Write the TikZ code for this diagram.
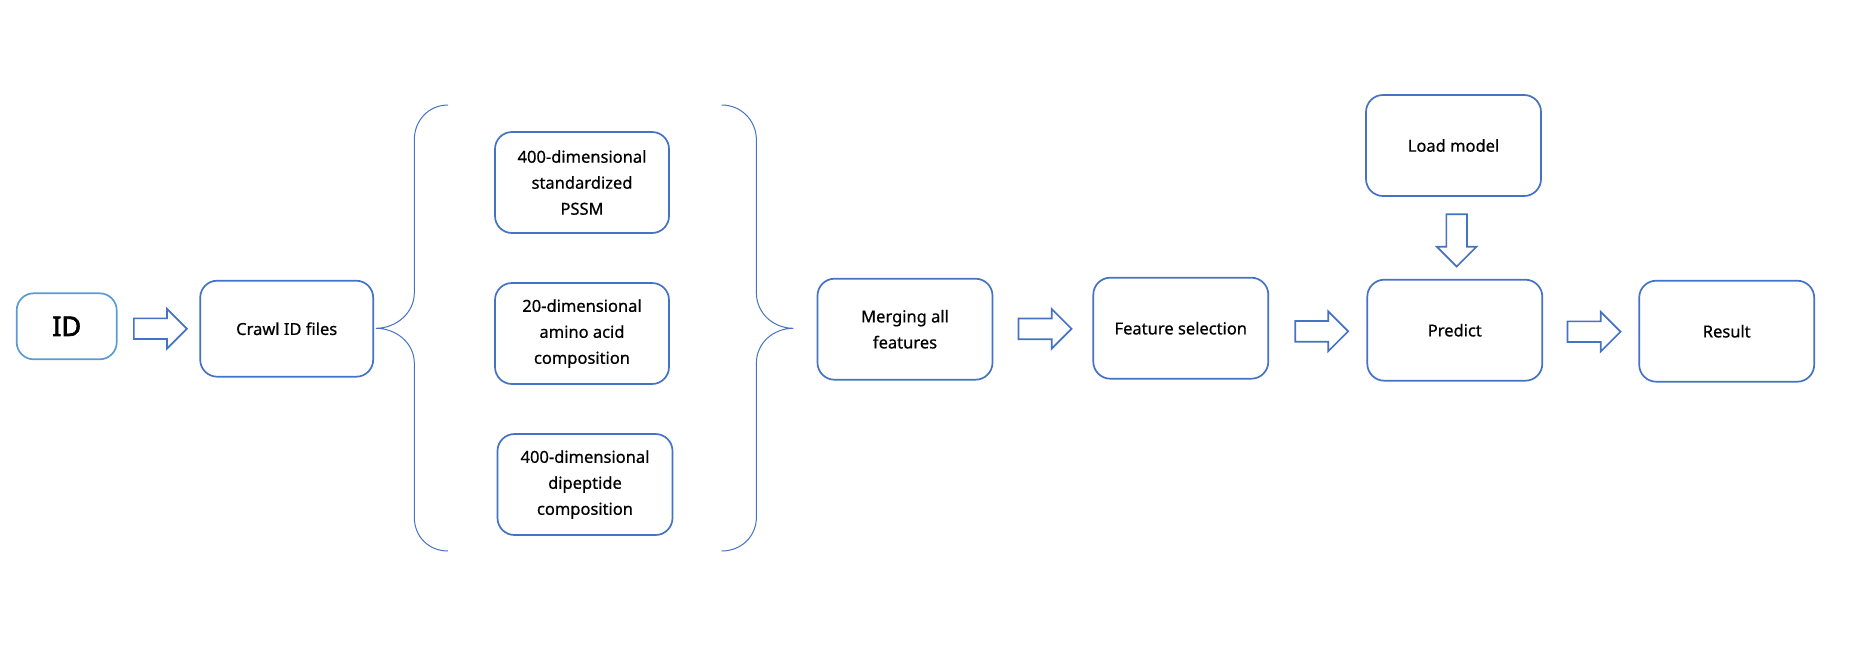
\documentclass[tikz,border=0pt]{standalone}
\usepackage{fontspec}
\setmainfont{Noto Sans}
\newfontfamily\stagefont{Noto Sans}[FakeBold=0.6]
\newfontfamily\idfont{Noto Sans}[FakeBold=2.4]
\usetikzlibrary{shapes.arrows}
\definecolor{boxblue}{HTML}{4472C4}
\definecolor{idblue}{HTML}{5B9BD5}
\tikzset{
  stagebox/.style={draw=boxblue, line width=1.7pt, rounded corners=17pt,
    fill=white, align=center, minimum width=175pt, minimum height=101pt,
    inner sep=0pt, font=\stagefont\fontsize{16.5}{26}\selectfont},
  blockarrow/.style={single arrow, draw=boxblue, line width=1.7pt, fill=white,
    minimum height=53pt, minimum width=38pt, single arrow head extend=9.5pt,
    inner sep=9.5pt, single arrow tip angle=90, anchor=tail},
  bracket/.style={draw=boxblue, line width=1pt},
}
\begin{document}
\begin{tikzpicture}[x=1pt,y=-1pt]
\path[use as bounding box] (0,0) rectangle (1849,648);

% ID input
\node[stagebox, draw=idblue, minimum width=100pt, minimum height=66pt,
  font=\idfont\fontsize{27}{30}\selectfont] (id) at (66.7,326.3) {ID};

\node[stagebox, minimum width=173pt, minimum height=96pt] (crawl) at (286.7,328.7) {Crawl ID files};

% feature extraction branches
\node[stagebox, minimum width=174pt] (pssm) at (582,182.5) {400-dimensional\\standardized\\PSSM};
\node[stagebox, minimum width=174pt] (aac) at (582,333.5) {20-dimensional\\amino acid\\composition};
\node[stagebox] (dpc) at (585,484.5) {400-dimensional\\dipeptide\\composition};

\node[stagebox] (merge) at (905,329.2) {Merging all\\features};
\node[stagebox] (feat) at (1180.8,328.2) {Feature selection};
\node[stagebox] (pred) at (1454.8,330.2) {Predict};
\node[stagebox] (load) at (1453.5,145.5) {Load model};
\node[stagebox] (res) at (1726.7,331.2) {Result};

% block arrows between stages (placed by their tails)
\node[blockarrow] (a1) at (133,328.7) {};
\node[blockarrow] (a2) at (1017.7,328.8) {};
\node[blockarrow] (a3) at (1294.3,331.3) {};
\node[blockarrow] (a4) at (1566.7,331.7) {};
\node[blockarrow, shape border rotate=270, minimum height=52.4pt] (a5) at (1456.7,213.3) {};

% left brace
\draw[bracket] (448,105) .. controls (429,105) and (414.3,120) .. (414.3,140)
  -- (414.3,293) .. controls (414.3,313) and (396,328.3) .. (376,328.3)
  .. controls (396,328.3) and (414.3,343) .. (414.3,363)
  -- (414.3,517) .. controls (414.3,537) and (429,551) .. (448,551);

% right brace
\draw[bracket] (721.7,105) .. controls (740.7,105) and (756.4,120) .. (756.4,140)
  -- (756.4,293) .. controls (756.4,313) and (773.3,328.3) .. (793.3,328.3)
  .. controls (773.3,328.3) and (756.4,343) .. (756.4,363)
  -- (756.4,517) .. controls (756.4,537) and (740.7,551) .. (721.7,551);
\end{tikzpicture}
\end{document}
